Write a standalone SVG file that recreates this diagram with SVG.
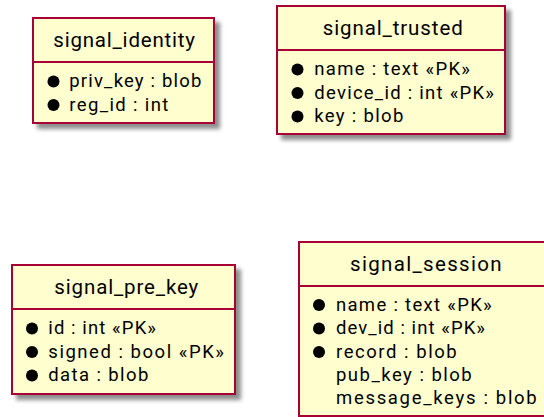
<svg xmlns="http://www.w3.org/2000/svg" width="544" height="417" viewBox="0 0 544 417">
  <defs>
    <filter id="shadow" x="-10%" y="-10%" width="130%" height="130%">
      <feGaussianBlur in="SourceAlpha" stdDeviation="2" result="blur"/>
      <feOffset in="blur" dx="5" dy="5" result="off"/>
      <feComponentTransfer in="off" result="soft">
        <feFuncA type="linear" slope="0.45"/>
      </feComponentTransfer>
      <feMerge>
        <feMergeNode in="soft"/>
        <feMergeNode in="SourceGraphic"/>
      </feMerge>
    </filter>
    <style>
      .box { fill: #FEFECE; stroke: #A80036; stroke-width: 2; filter: url(#shadow); }
      .sep { stroke: #A80036; stroke-width: 2; }
      .title { font-family: Roboto, "Liberation Sans", sans-serif; font-size: 20.5px; fill: #000; }
      .row { font-family: Roboto, "Liberation Sans", sans-serif; font-size: 18.5px; fill: #000; }
      .dot { fill: #000; }
    </style>
  </defs>

  <g id="connectors"></g>

  <g id="signal_identity">
    <rect class="box" x="33" y="18" width="181" height="105"/>
    <text class="title" x="53.3" y="47" textLength="141.7" lengthAdjust="spacing">signal_identity</text>
    <line class="sep" x1="33" y1="62" x2="214" y2="62"/>
    <circle class="dot" cx="53.5" cy="81.5" r="6"/>
    <text class="row" x="69.3" y="87" textLength="132" lengthAdjust="spacing">priv_key : blob</text>
    <circle class="dot" cx="53.5" cy="105" r="6"/>
    <text class="row" x="69.3" y="110.5" textLength="99" lengthAdjust="spacing">reg_id : int</text>
  </g>

  <g id="signal_trusted">
    <rect class="box" x="277" y="6" width="228" height="128"/>
    <text class="title" x="322.7" y="35" textLength="140" lengthAdjust="spacing">signal_trusted</text>
    <line class="sep" x1="277" y1="50" x2="505" y2="50"/>
    <circle class="dot" cx="297.5" cy="69.5" r="6"/>
    <text class="row" x="314.3" y="75" textLength="155.7" lengthAdjust="spacing">name : text «PK»</text>
    <circle class="dot" cx="297.5" cy="93" r="6"/>
    <text class="row" x="314.3" y="98.5" textLength="179.7" lengthAdjust="spacing">device_id : int «PK»</text>
    <circle class="dot" cx="297.5" cy="116.5" r="6"/>
    <text class="row" x="314.3" y="122" textLength="89" lengthAdjust="spacing">key : blob</text>
  </g>

  <g id="signal_pre_key">
    <rect class="box" x="12" y="265" width="223" height="129"/>
    <text class="title" x="54.3" y="294" textLength="144" lengthAdjust="spacing">signal_pre_key</text>
    <line class="sep" x1="12" y1="309" x2="235" y2="309"/>
    <circle class="dot" cx="32" cy="328.5" r="6"/>
    <text class="row" x="48.3" y="334" textLength="107.7" lengthAdjust="spacing">id : int «PK»</text>
    <circle class="dot" cx="32" cy="352" r="6"/>
    <text class="row" x="48.3" y="357.5" textLength="175.7" lengthAdjust="spacing">signed : bool «PK»</text>
    <circle class="dot" cx="32" cy="375.5" r="6"/>
    <text class="row" x="48.3" y="381" textLength="100" lengthAdjust="spacing">data : blob</text>
  </g>

  <g id="signal_session">
    <rect class="box" x="299" y="242" width="253" height="174"/>
    <text class="title" x="350" y="270.5" textLength="151.7" lengthAdjust="spacing">signal_session</text>
    <line class="sep" x1="299" y1="286" x2="552" y2="286"/>
    <circle class="dot" cx="319" cy="305" r="6"/>
    <text class="row" x="336" y="310.5" textLength="155.7" lengthAdjust="spacing">name : text «PK»</text>
    <circle class="dot" cx="319" cy="328.5" r="6"/>
    <text class="row" x="336" y="334" textLength="149" lengthAdjust="spacing">dev_id : int «PK»</text>
    <circle class="dot" cx="319" cy="352" r="6"/>
    <text class="row" x="336" y="357.5" textLength="120.7" lengthAdjust="spacing">record : blob</text>
    <text class="row" x="336" y="381" textLength="135.7" lengthAdjust="spacing">pub_key : blob</text>
    <text class="row" x="336" y="404" textLength="200.7" lengthAdjust="spacing">message_keys : blob</text>
  </g>
</svg>
